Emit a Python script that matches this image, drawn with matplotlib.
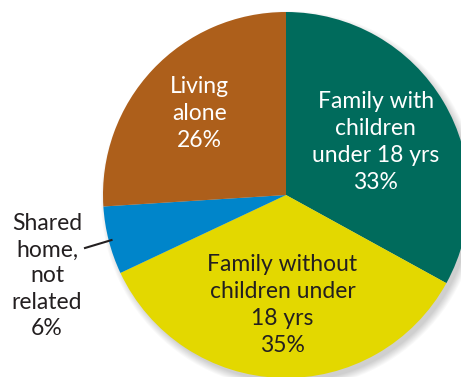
import numpy as np
import matplotlib.pyplot as plt
from matplotlib.patches import Circle

labels = ['Family with\nchildren\nunder 18 yrs', 'Family without\nchildren under\n18 yrs',
          'Shared\nhome,\nnot\nrelated', 'Living\nalone']
shares = [33, 35, 6, 26]
colors = ['#006b5c', '#e3d800', '#0085ca', '#ad5f1b']
text_colors = ['white', '#231f20', '#231f20', 'white']

plt.rcParams['font.family'] = ['Lato', 'DejaVu Sans']

fig = plt.figure(figsize=(4.61, 3.77), dpi=100)
ax = fig.add_axes([0, 0, 1, 1])

cx, cy, r = 286, 182, 183

# soft shadow under the pie
for k in range(8):
    ax.add_patch(Circle((cx + 4, cy - 5), r + 6 - k, color='black', alpha=0.025, lw=0, zorder=0))

wedges, _ = ax.pie(shares, colors=colors, startangle=90, counterclock=False,
                   center=(cx, cy), radius=r, frame=True,
                   wedgeprops=dict(linewidth=0))
ax.set_xlim(0, 461)
ax.set_ylim(0, 377)
ax.set_aspect('equal')
ax.axis('off')

# label distances (fraction of radius) for each wedge
dist = [0.57, 0.6, None, 0.65]
for w, lab, pct, tc, d in zip(wedges, labels, shares, text_colors, dist):
    if d is None:
        continue
    ang = np.deg2rad((w.theta1 + w.theta2) / 2)
    ax.text(cx + d * r * np.cos(ang), cy + d * r * np.sin(ang), f'{lab}\n{pct}%',
            ha='center', va='center', color=tc, fontsize=16.5, linespacing=1.36)

# outside label for the small wedge
w = wedges[2]
ang = np.deg2rad((w.theta1 + w.theta2) / 2)
ax.plot([cx + 0.99 * r * np.cos(ang) + 1, 85], [cy + 0.99 * r * np.sin(ang), 129],
        color='#231f20', lw=1.5)
ax.text(47, 101, f'{labels[2]}\n{shares[2]}%', ha='center', va='center',
        color='#231f20', fontsize=16.5, linespacing=1.3)

fig.savefig('out.png', dpi=100)
